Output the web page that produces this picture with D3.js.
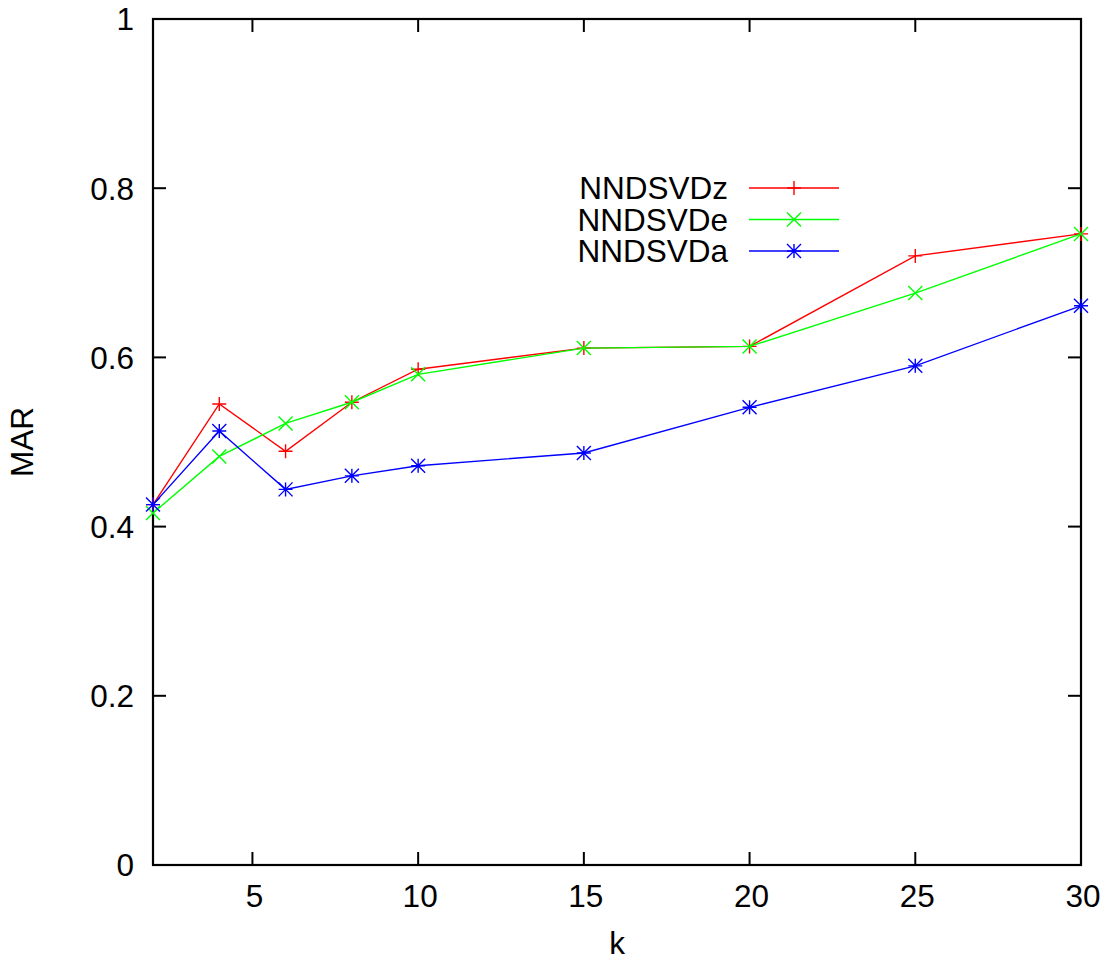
<!DOCTYPE html>
<html>
<head>
<meta charset="utf-8">
<script src="https://cdn.jsdelivr.net/npm/d3@7"></script>
<style>
  body { margin: 0; background: #fff; }
  svg text { font-family: "Liberation Sans", Arial, sans-serif; fill: #000; }
</style>
</head>
<body>
<svg id="chart" width="1114" height="964"></svg>
<script>
// k values on the horizontal axis
const kValues = [2, 4, 6, 8, 10, 15, 20, 25, 30];

// MAR for each initialisation
const nndsvdz = [0.426, 0.545, 0.489, 0.547, 0.586, 0.611, 0.613, 0.720, 0.746];
const nndsvde = [0.416, 0.483, 0.522, 0.547, 0.580, 0.611, 0.613, 0.676, 0.746];
const nndsvda = [0.426, 0.513, 0.444, 0.460, 0.472, 0.487, 0.541, 0.590, 0.661];

const seriesNames = ["NNDSVDz", "NNDSVDe", "NNDSVDa"];
const seriesColors = ["#ff0000", "#00ff00", "#0000ff"];
const seriesMarks = ["plus", "cross", "star"];

const xTicks = [5, 10, 15, 20, 25, 30];
const yTicks = [0, 0.2, 0.4, 0.6, 0.8, 1];

const box = { left: 153, right: 1081, top: 19, bottom: 865 };
const TICK = 13;
const MARK = 7;
const FONT = 31.5;

const svg = d3.select("#chart");

const x = d3.scaleLinear().domain([2, 30]).range([box.left, box.right]);
const y = d3.scaleLinear().domain([0, 1]).range([box.bottom, box.top]);

const fmtY = d => d === 0 || d === 1 ? String(d) : d3.format(".1f")(d);

// ticks on all four sides, pointing inward
function tickLines(g, vals, fn) {
    g.selectAll(null).data(vals).enter().append("line")
        .each(function(d) { d3.select(this).attr("x1", fn(d)[0]).attr("y1", fn(d)[1]).attr("x2", fn(d)[2]).attr("y2", fn(d)[3]); })
        .attr("stroke", "#000").attr("stroke-width", 2);
}
const ticksG = svg.append("g");
tickLines(ticksG, xTicks, d => [x(d), box.bottom, x(d), box.bottom - TICK]);
tickLines(ticksG, xTicks, d => [x(d), box.top, x(d), box.top + TICK]);
tickLines(ticksG, yTicks, d => [box.left, y(d), box.left + TICK, y(d)]);
tickLines(ticksG, yTicks, d => [box.right, y(d), box.right - TICK, y(d)]);

svg.append("rect")
    .attr("x", box.left).attr("y", box.top)
    .attr("width", box.right - box.left).attr("height", box.bottom - box.top)
    .attr("fill", "none").attr("stroke", "#000").attr("stroke-width", 2.2);

svg.append("g").selectAll("text").data(xTicks).enter().append("text")
    .attr("x", d => x(d) + 2).attr("y", box.bottom + 42)
    .attr("text-anchor", "middle").attr("font-size", FONT)
    .text(d => d);

svg.append("g").selectAll("text").data(yTicks).enter().append("text")
    .attr("x", box.left - 19).attr("y", d => y(d)).attr("dy", "0.36em")
    .attr("text-anchor", "end").attr("font-size", FONT)
    .text(fmtY);

svg.append("text")
    .attr("x", (box.left + box.right) / 2).attr("y", 954)
    .attr("text-anchor", "middle").attr("font-size", FONT)
    .text("k");

svg.append("text")
    .attr("transform", "translate(33," + ((box.top + box.bottom) / 2) + ") rotate(-90)")
    .attr("text-anchor", "middle").attr("font-size", FONT)
    .text("MAR");

// point symbols
function markPath(type, cx, cy) {
    const s = MARK;
    const plus = `M${cx - s},${cy}H${cx + s}M${cx},${cy - s}V${cy + s}`;
    const cross = `M${cx - s},${cy - s}L${cx + s},${cy + s}M${cx - s},${cy + s}L${cx + s},${cy - s}`;
    if (type === "plus") return plus;
    if (type === "cross") return cross;
    return plus + cross;
}

const series = [nndsvdz, nndsvde, nndsvda].map((vals, i) => ({
    name: seriesNames[i],
    color: seriesColors[i],
    mark: seriesMarks[i],
    points: vals.map((v, j) => ({ k: kValues[j], v: v }))
}));

const line = d3.line().x(d => x(d.k)).y(d => y(d.v));

const seriesG = svg.append("g").selectAll("g").data(series).enter().append("g");
seriesG.append("path")
    .attr("d", d => line(d.points))
    .attr("fill", "none").attr("stroke", d => d.color).attr("stroke-width", 1.4);
seriesG.each(function(s) {
    d3.select(this).selectAll(".pt").data(s.points).enter().append("path")
        .attr("class", "pt")
        .attr("d", p => markPath(s.mark, x(p.k), y(p.v)))
        .attr("fill", "none").attr("stroke", s.color).attr("stroke-width", 1.4);
});

// key
const legend = svg.append("g").selectAll("g").data(series).enter().append("g")
    .attr("transform", (d, i) => "translate(0," + (188 + i * 31.5) + ")");
legend.append("text")
    .attr("x", 728).attr("dy", "0.36em")
    .attr("text-anchor", "end").attr("font-size", FONT)
    .text(d => d.name);
legend.append("line")
    .attr("x1", 749).attr("x2", 839)
    .attr("stroke", d => d.color).attr("stroke-width", 1.4);
legend.append("path")
    .attr("d", d => markPath(d.mark, 794, 0))
    .attr("fill", "none").attr("stroke", d => d.color).attr("stroke-width", 1.4);
</script>
</body>
</html>
